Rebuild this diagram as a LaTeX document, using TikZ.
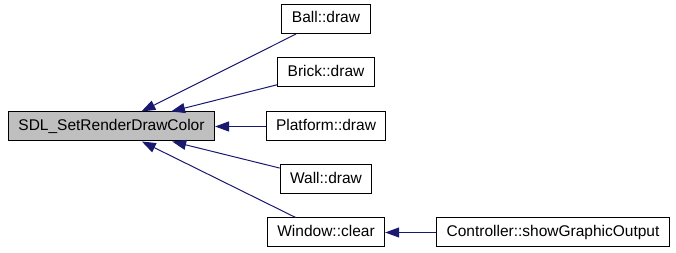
\documentclass[tikz,border=0pt]{standalone}
\usepackage{fontspec}
\setmainfont{Liberation Sans}
\usetikzlibrary{arrows.meta}
\usetikzlibrary{positioning}
\definecolor{edgeblue}{HTML}{191970}
\tikzstyle{func} = [rectangle, draw=black, line width=1pt, fill=white, minimum height=29pt, inner xsep=10pt, text height=11pt, text depth=3pt, font=\fontsize{15.5}{18}\selectfont]
\tikzstyle{root} = [func, fill=black!25]
\tikzstyle{arrow} = [line width=1pt, draw=edgeblue, ->, >={Triangle[length=14pt, width=10pt, fill=edgeblue]}]

\begin{document}
\begin{tikzpicture}[x=1pt, y=-1pt]
 \useasboundingbox (0,0) rectangle (676,253);
 \node (setcolor) [root] at (111.5,126.5) {SDL\_SetRenderDrawColor};
 \node (platform) [func, right of=setcolor, node distance=214.5pt] {Platform::draw};
 \node (brick) [func, above of=platform, node distance=54pt] {Brick::draw};
 \node (ball) [func, above of=brick, node distance=53.5pt] {Ball::draw};
 \node (wall) [func, below of=platform, node distance=53pt] {Wall::draw};
 \node (windowclear) [func, below of=wall, node distance=53pt] {Window::clear};
 \node (controller) [func, right of=windowclear, node distance=227pt] {Controller::showGraphicOutput};

 \draw [arrow] (ball) -- (setcolor);
 \draw [arrow] (brick) -- (setcolor);
 \draw [arrow] (platform) -- (setcolor);
 \draw [arrow] (wall) -- (setcolor);
 \draw [arrow] (windowclear) -- (setcolor);
 \draw [arrow] (controller) -- (windowclear);
\end{tikzpicture}
\end{document}
